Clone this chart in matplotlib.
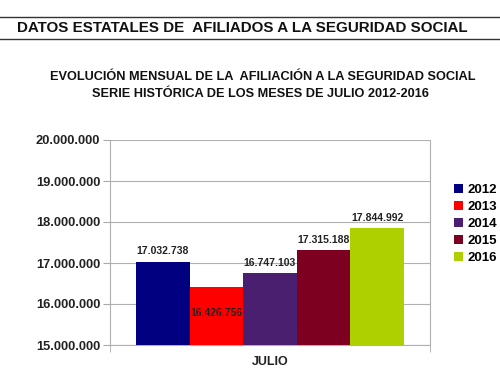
import matplotlib
matplotlib.use("Agg")
import matplotlib.pyplot as plt
from matplotlib.ticker import FuncFormatter
from matplotlib.lines import Line2D

plt.rcParams['font.family'] = ['Liberation Sans', 'DejaVu Sans']

# data
years = ['2012', '2013', '2014', '2015', '2016']
values = [17032738, 16426756, 16747103, 17315188, 17844992]
colors = ['#000080', '#ff0000', '#4b1f6f', '#7e0021', '#aecf00']
category = 'JULIO'
# vertical offset (points) for each value label
label_offsets = [4, -23, 4, 4, 4]


def miles(v):
    return '{:,.0f}'.format(v).replace(',', '.')


fig = plt.figure(figsize=(5, 3.8), dpi=100)

# header with lines above and below
fig.add_artist(Line2D([0, 1], [1 - 17/380, 1 - 17/380], color='#333333', lw=1))
fig.add_artist(Line2D([0, 1], [1 - 39/380, 1 - 39/380], color='#333333', lw=1))
fig.text(0.034, 1 - 28/380, 'DATOS ESTATALES DE  AFILIADOS A LA SEGURIDAD SOCIAL',
         fontsize=10.9, fontweight='bold', va='center', ha='left', color='#111111')

fig.text(0.526, 1 - 77/380, 'EVOLUCIÓN MENSUAL DE LA  AFILIACIÓN A LA SEGURIDAD SOCIAL',
         fontsize=9.2, fontweight='bold', ha='center', va='center', color='#111111')
fig.text(0.52, 1 - 94/380, 'SERIE HISTÓRICA DE LOS MESES DE JULIO 2012-2016',
         fontsize=9.2, fontweight='bold', ha='center', va='center', color='#111111')

ax = fig.add_axes([0.22, 1 - 345/380, 0.64, 205/380])

n = len(years)
w = 0.8375 / n
for i, (yr, v, c) in enumerate(zip(years, values, colors)):
    x = -0.8375 / 2 + w * (i + 0.5)
    ax.bar(x, v - 15000000, width=w, bottom=15000000, color=c, label=yr, zorder=3)
    ax.annotate(miles(v), (x, v), xytext=(0, label_offsets[i]), textcoords='offset points',
                ha='center', va='bottom', fontsize=7.5, fontweight='bold', color='#222222',
                zorder=4)

ax.set_xlim(-0.5, 0.5)
ax.set_ylim(15000000, 20000000)
ax.set_yticks(range(15000000, 20000001, 1000000))
ax.yaxis.set_major_formatter(FuncFormatter(lambda v, p: miles(v)))
ax.set_xticks([0])
ax.set_xticklabels([category])
ax.set_xticks([-0.5, 0.5], minor=True)
ax.tick_params(axis='x', which='major', length=0, pad=8, labelsize=9)
ax.tick_params(axis='x', which='minor', length=5, color='#aaaaaa')
ax.tick_params(axis='y', length=5, color='#aaaaaa', labelsize=9.3, pad=2)
for lab in ax.get_yticklabels() + ax.get_xticklabels():
    lab.set_fontweight('bold')
    lab.set_color('#222222')

ax.grid(axis='y', color='#b0b0b0', lw=0.8, zorder=0)
for s in ax.spines.values():
    s.set_color('#b0b0b0')
    s.set_linewidth(0.8)
ax.spines['top'].set_visible(False)

fig.legend(loc='upper left', bbox_to_anchor=(0.908, 1 - 184/380), frameon=False,
           prop={'size': 9.5, 'weight': 'bold'}, handlelength=0.7, handleheight=0.7,
           handletextpad=0.3, labelspacing=0.36, borderaxespad=0, borderpad=0)

fig.savefig('out.png', dpi=100)
